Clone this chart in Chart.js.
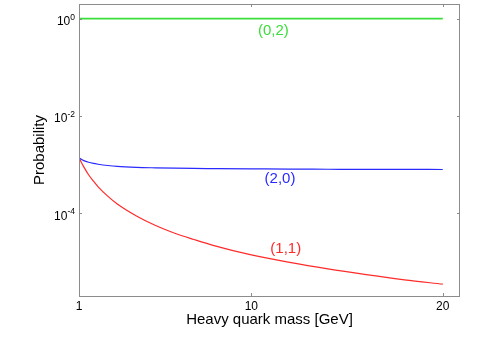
<!DOCTYPE html>
<html>
<head>
<meta charset="utf-8">
<script src="https://cdn.jsdelivr.net/npm/chart.js@4"></script>
<style>
  html, body { margin: 0; padding: 0; background: #fff; }
  #wrap { width: 503px; height: 341px; }
</style>
</head>
<body>
<div id="wrap"><canvas id="chart"></canvas></div>
<script>
// quark mass in GeV
const masses = [1, 1.1, 1.25, 1.5, 1.75, 2, 2.5, 3, 4, 5, 6, 7, 8, 10, 12, 14, 16, 18, 20];
// probability per configuration
const prob11 = [1.40e-3, 1.16e-3, 9.0e-4, 6.2e-4, 4.6e-4, 3.5e-4, 2.25e-4, 1.55e-4, 8.8e-5, 5.6e-5,
                3.9e-5, 2.9e-5, 2.2e-5, 1.4e-5, 9.8e-6, 7.2e-6, 5.5e-6, 4.3e-6, 3.5e-6];
const prob20 = [1.40e-3, 1.30e-3, 1.21e-3, 1.12e-3, 1.06e-3, 1.02e-3, 9.6e-4, 9.2e-4, 8.8e-4, 8.6e-4,
                8.45e-4, 8.35e-4, 8.3e-4, 8.2e-4, 8.1e-4, 8.05e-4, 8.0e-4, 8.0e-4, 7.95e-4];
const prob02 = [0.998, 0.998, 0.998, 0.998, 0.998, 0.998, 0.998, 0.998, 0.998, 0.998,
                0.998, 0.998, 0.998, 0.998, 0.998, 0.998, 0.998, 0.998, 0.998];

const xTicks = [1, 10, 20];
const yTicks = [1e-4, 1e-2, 1];
const yExponents = ['-4', '-2', '0'];

// curve names and where the text sits (data coordinates)
const curveNames = ['(0,2)', '(2,0)', '(1,1)'];
const nameX = [11.15, 11.5, 11.8];
const nameY = [0.55, 5.0e-4, 1.85e-5];

const green = '#3ade3a';
const blue = '#2a2aff';
const red = '#ff2a2a';
const nameColors = [green, blue, red];
const frameColor = '#8c8c8c';
const fontFam = '"Liberation Sans", Arial, Helvetica, sans-serif';

// frame, inward ticks, 10^n labels and curve names
const decorPlugin = {
  id: 'decor',
  afterDatasetsDraw(chart) {
    const ctx = chart.ctx;
    const a = chart.chartArea;
    const xs = chart.scales.x;
    const ys = chart.scales.y;
    ctx.save();
    ctx.strokeStyle = frameColor;
    ctx.lineWidth = 1;
    ctx.strokeRect(Math.round(a.left) + 0.5, Math.round(a.top) + 0.5,
      Math.round(a.right - a.left) - 1, Math.round(a.bottom - a.top));

    const tl = 3;
    ctx.beginPath();
    for (const v of xTicks) {
      const px = Math.round(xs.getPixelForValue(v)) + 0.5;
      ctx.moveTo(px, a.bottom); ctx.lineTo(px, a.bottom - tl);
      ctx.moveTo(px, a.top); ctx.lineTo(px, a.top + tl);
    }
    for (const v of yTicks) {
      const py = Math.round(ys.getPixelForValue(v)) + 0.5;
      ctx.moveTo(a.left, py); ctx.lineTo(a.left + tl, py);
      ctx.moveTo(a.right, py); ctx.lineTo(a.right - tl, py);
    }
    ctx.stroke();

    // y labels as 10 with a raised exponent
    ctx.fillStyle = '#000';
    ctx.textBaseline = 'alphabetic';
    for (let i = 0; i < yTicks.length; i++) {
      const py = ys.getPixelForValue(yTicks[i]);
      ctx.font = '8.5px ' + fontFam;
      const ew = ctx.measureText(yExponents[i]).width;
      ctx.font = '12px ' + fontFam;
      const bw = ctx.measureText('10').width;
      const right = a.left - 4;
      ctx.textAlign = 'left';
      ctx.fillText('10', right - ew - bw, py + 6.5);
      ctx.font = '8.5px ' + fontFam;
      ctx.fillText(yExponents[i], right - ew, py + 1);
    }

    // curve names
    ctx.font = '15px ' + fontFam;
    ctx.textAlign = 'center';
    ctx.textBaseline = 'middle';
    for (let i = 0; i < curveNames.length; i++) {
      ctx.fillStyle = nameColors[i];
      ctx.fillText(curveNames[i], xs.getPixelForValue(nameX[i]), ys.getPixelForValue(nameY[i]));
    }
    ctx.restore();
  }
};

new Chart(document.getElementById('chart'), {
  type: 'line',
  data: {
    labels: masses,
    datasets: [
      { label: '(0,2)', data: masses.map((m, i) => ({ x: m, y: prob02[i] })), borderColor: green, borderWidth: 1.7 },
      { label: '(2,0)', data: masses.map((m, i) => ({ x: m, y: prob20[i] })), borderColor: blue, borderWidth: 1.2 },
      { label: '(1,1)', data: masses.map((m, i) => ({ x: m, y: prob11[i] })), borderColor: red, borderWidth: 1.2 }
    ]
  },
  options: {
    responsive: true,
    maintainAspectRatio: false,
    animation: false,
    devicePixelRatio: 1,
    layout: { padding: { left: 0, right: 43, top: 4, bottom: 0 } },
    elements: {
      point: { radius: 0 },
      line: { cubicInterpolationMode: 'monotone', fill: false }
    },
    plugins: {
      legend: { display: false },
      tooltip: { enabled: false }
    },
    scales: {
      x: {
        type: 'linear',
        min: 1,
        max: 20.9,
        afterBuildTicks: s => { s.ticks = xTicks.map(v => ({ value: v })); },
        afterFit: s => { s.height = 45; },
        grid: { display: false, drawTicks: false },
        border: { display: false },
        ticks: {
          padding: 3,
          maxRotation: 0,
          color: '#000',
          font: { family: fontFam, size: 12 },
          callback: v => String(v)
        },
        title: {
          display: true,
          text: 'Heavy quark mass [GeV]',
          color: '#000',
          font: { family: fontFam, size: 15, lineHeight: 1.2 },
          padding: { top: 0, bottom: 12 }
        }
      },
      y: {
        type: 'logarithmic',
        min: 2e-6,
        max: 2,
        afterBuildTicks: s => { s.ticks = yTicks.map(v => ({ value: v })); },
        afterFit: s => { s.width = 79; },
        grid: { display: false, drawTicks: false },
        border: { display: false },
        ticks: { display: false },
        title: {
          display: true,
          text: 'Probability',
          color: '#000',
          font: { family: fontFam, size: 15, lineHeight: 1.2 },
          padding: { top: 31, bottom: 0 }
        }
      }
    }
  },
  plugins: [decorPlugin]
});
</script>
</body>
</html>
